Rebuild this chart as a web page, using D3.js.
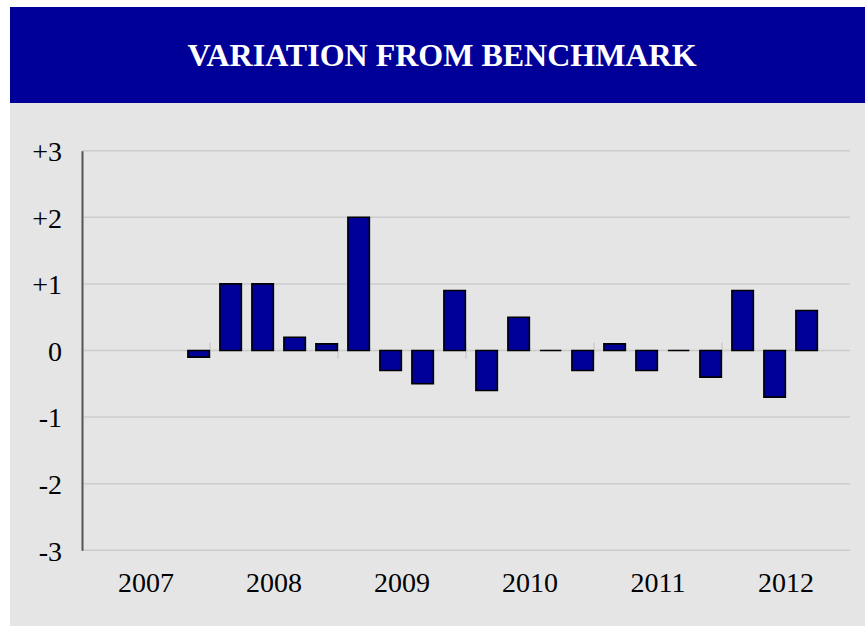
<!DOCTYPE html>
<html>
<head>
<meta charset="utf-8">
<script src="https://cdn.jsdelivr.net/npm/d3@7"></script>
<style>
html,body{margin:0;padding:0;background:#fff;}
svg{display:block;}
</style>
</head>
<body>
<svg id="chart" width="865" height="626"></svg>
<script>
const title = "VARIATION FROM BENCHMARK";
const years = ["2007", "2008", "2009", "2010", "2011", "2012"];
const quarters = ["Q1", "Q2", "Q3", "Q4"];
const values = [
  null, null, null, -0.1,
  1.0, 1.0, 0.2, 0.1,
  2.0, -0.3, -0.5, 0.9,
  -0.6, 0.5, 0.0, -0.3,
  0.1, -0.3, 0.0, -0.4,
  0.9, -0.7, 0.6, null
];
const yTicks = [3, 2, 1, 0, -1, -2, -3];
const yTickLabels = ["+3", "+2", "+1", "0", "-1", "-2", "-3"];

(function () {
const categories = [];
years.forEach(yr => quarters.forEach(q => categories.push(yr + " " + q)));
const data = categories.map((c, i) => ({cat: c, value: values[i]}));

const svg = d3.select("#chart");
const W = 865, H = 626;
const blue = "#000099";

// background panels
svg.append("rect").attr("x", 10).attr("y", 7).attr("width", W - 10).attr("height", 96).attr("fill", blue);
svg.append("rect").attr("x", 10).attr("y", 103).attr("width", W - 10).attr("height", H - 103).attr("fill", "#e5e5e5");

svg.append("text")
  .attr("x", 442).attr("y", 65.5)
  .attr("text-anchor", "middle")
  .attr("fill", "#ffffff")
  .attr("font-family", "'Liberation Serif', 'Times New Roman', serif")
  .attr("font-weight", "bold")
  .attr("font-size", 32)
  .text(title);

const pLeft = 82, pRight = 850, pTop = 150.7, pBottom = 550.3;
const x = d3.scaleBand().domain(categories).range([pLeft, pRight]).padding(0);
const xYear = d3.scaleBand().domain(years).range([pLeft, pRight]).padding(0);
const y = d3.scaleLinear().domain([-3, 3]).range([pBottom, pTop]);

// gridlines
svg.append("g").selectAll("line").data(yTicks).join("line")
  .attr("x1", pLeft).attr("x2", pRight)
  .attr("y1", d => y(d)).attr("y2", d => y(d))
  .attr("stroke", "#cccccc").attr("stroke-width", 1.5);

// year boundary ticks at zero line
svg.append("g").selectAll("line").data(years.slice(1)).join("line")
  .attr("x1", d => xYear(d)).attr("x2", d => xYear(d))
  .attr("y1", y(0) - 8).attr("y2", y(0) + 8)
  .attr("stroke", "#cccccc").attr("stroke-width", 1.5);

// y axis
const yAxis = d3.axisLeft(y).tickValues(yTicks).tickSize(0).tickPadding(20)
  .tickFormat((d, i) => yTickLabels[i]);
const gy = svg.append("g").attr("transform", `translate(${pLeft},0)`).call(yAxis);
gy.select(".domain").attr("stroke", "#555555").attr("stroke-width", 2);
gy.selectAll("text")
  .attr("font-family", "'Liberation Serif', 'Times New Roman', serif")
  .attr("font-size", 28).attr("fill", "#000").attr("dy", "0.35em");

// bars (drawn as paths so zero-value bars still show their outline)
const bw = x.bandwidth();
svg.append("g").selectAll("path").data(data.filter(d => d.value !== null)).join("path")
  .attr("d", d => {
    const x0 = x(d.cat) + bw * 0.31, x1 = x0 + bw * 0.67;
    const y0 = y(0), y1 = y(d.value);
    return `M${x0},${y0}L${x0},${y1}L${x1},${y1}L${x1},${y0}Z`;
  })
  .attr("fill", blue)
  .attr("stroke", "#000000")
  .attr("stroke-width", 1.6);

// x axis year labels
const xAxis = d3.axisBottom(xYear).tickSize(0).tickPadding(0);
const gx = svg.append("g").attr("transform", `translate(0,${pBottom})`).call(xAxis);
gx.select(".domain").remove();
gx.selectAll("text")
  .attr("font-family", "'Liberation Serif', 'Times New Roman', serif")
  .attr("font-size", 28).attr("fill", "#000")
  .attr("dy", null).attr("y", 41.5);
})();
</script>
</body>
</html>
